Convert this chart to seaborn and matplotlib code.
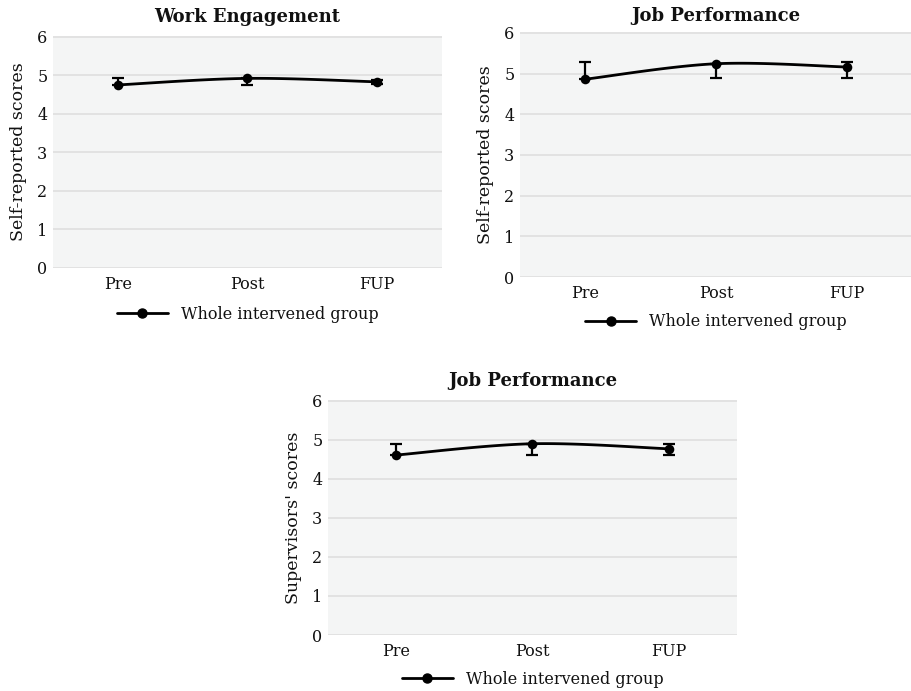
import numpy as np
import pandas as pd
import matplotlib
matplotlib.use("Agg")
import matplotlib.pyplot as plt
from matplotlib.lines import Line2D
import seaborn as sns

# Time points
phases = ["Pre", "Post", "FUP"]
series_label = "Whole intervened group"

# Work engagement (self-reported)
we_mean = [4.75, 4.92, 4.83]
we_err_low = [0.00, 0.16, 0.05]
we_err_high = [0.17, 0.00, 0.05]

# Job performance (self-reported)
jp_self_mean = [4.86, 5.24, 5.16]
jp_self_err_low = [0.00, 0.34, 0.26]
jp_self_err_high = [0.43, 0.00, 0.13]

# Job performance (supervisors)
jp_sup_mean = [4.61, 4.90, 4.77]
jp_sup_err_low = [0.00, 0.29, 0.16]
jp_sup_err_high = [0.29, 0.00, 0.13]

y_ticks = [0, 1, 2, 3, 4, 5, 6]

sns.set_theme(style="white")
plt.rcParams["font.family"] = ["DejaVu Serif"]

BG = "#F4F5F5"
GRID = "#E2E2E2"
TXT = "#111111"


def smooth_path(values, steps=40):
    """Catmull-Rom curve through the category points (smoothed line)."""
    pts = np.array([[i, v] for i, v in enumerate(values)], dtype=float)
    ext = np.vstack([pts[0], pts, pts[-1]])
    xs, ys = [], []
    for k in range(1, len(ext) - 2):
        p0, p1, p2, p3 = ext[k - 1], ext[k], ext[k + 1], ext[k + 2]
        t = np.linspace(0, 1, steps)[:, None]
        c1 = p1 + (p2 - p0) / 6.0
        c2 = p2 - (p3 - p1) / 6.0
        seg = ((1 - t) ** 3) * p1 + 3 * ((1 - t) ** 2) * t * c1 + 3 * (1 - t) * t ** 2 * c2 + t ** 3 * p2
        xs.extend(seg[:, 0])
        ys.extend(seg[:, 1])
    return pd.DataFrame({"x": xs, "y": ys})


def panel(ax, title, ylabel, mean, err_low, err_high, title_pad=10, legend_y=-0.11):
    ax.set_facecolor(BG)
    for y in y_ticks:
        ax.axhline(y, color=GRID, lw=1.4, zorder=0)
    curve = smooth_path(mean)
    sns.lineplot(data=curve, x="x", y="y", ax=ax, color="black", lw=2.0,
                 sort=False, estimator=None, zorder=3)
    pos = np.arange(len(phases))
    ax.errorbar(pos, mean, yerr=[err_low, err_high], fmt="none",
                ecolor="black", elinewidth=1.6, capsize=4, capthick=1.6, zorder=4)
    pts = pd.DataFrame({"x": pos, "y": mean})
    sns.scatterplot(data=pts, x="x", y="y", ax=ax, color="black", s=48,
                    edgecolor="black", linewidth=0, zorder=5)
    ax.set_xlim(-0.5, len(phases) - 0.5)
    ax.set_ylim(0, 6.02)
    ax.set_yticks(y_ticks)
    ax.set_xticks(pos)
    ax.set_xticklabels(phases)
    ax.tick_params(axis="both", length=0, labelsize=11.5, colors=TXT)
    ax.tick_params(axis="x", pad=6)
    ax.tick_params(axis="y", pad=4)
    for s in ax.spines.values():
        s.set_visible(False)
    ax.set_xlabel("")
    ax.set_ylabel(ylabel, fontsize=12.5, color=TXT, labelpad=7)
    ax.set_title(title, fontsize=13, fontweight="bold", pad=title_pad, color=TXT)
    handle = Line2D([0], [0], color="black", lw=2.0, marker="o", markersize=6.5)
    ax.legend([handle], [series_label], loc="upper center",
              bbox_to_anchor=(0.5, legend_y), frameon=False, fontsize=11.5,
              handlelength=3.2, handletextpad=0.8, labelcolor=TXT)


fig = plt.figure(figsize=(9.12, 6.91), dpi=100)
fig.patch.set_facecolor("white")
ax1 = fig.add_axes([0.0581, 0.6122, 0.4265, 0.3357])
ax2 = fig.add_axes([0.5702, 0.5991, 0.4298, 0.3546])
ax3 = fig.add_axes([0.3596, 0.0810, 0.4485, 0.3401])

panel(ax1, "Work Engagement", "Self-reported scores", we_mean, we_err_low, we_err_high,
      title_pad=10, legend_y=-0.10)
panel(ax2, "Job Performance", "Self-reported scores", jp_self_mean, jp_self_err_low, jp_self_err_high,
      title_pad=8, legend_y=-0.09)
panel(ax3, "Job Performance", "Supervisors' scores", jp_sup_mean, jp_sup_err_low, jp_sup_err_high,
      title_pad=10, legend_y=-0.09)

fig.savefig("out.png", dpi=100, facecolor="white")
